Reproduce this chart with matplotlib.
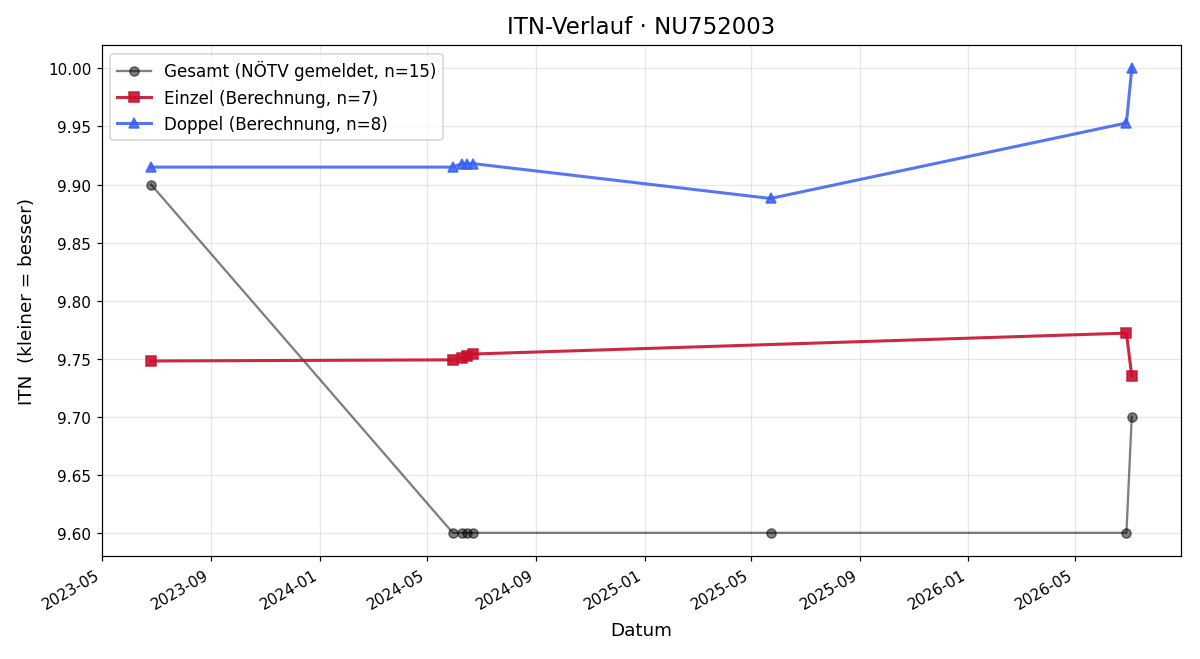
import matplotlib
matplotlib.use("Agg")
import matplotlib.pyplot as plt
import matplotlib.dates as mdates
import pandas as pd

# Gesamt (NÖTV gemeldet)
gesamt_dates = ["2023-06-25", "2024-05-30", "2024-06-09", "2024-06-15", "2024-06-22",
                "2025-05-23", "2026-06-28", "2026-07-04"]
gesamt_itn = [9.90, 9.60, 9.60, 9.60, 9.60, 9.60, 9.60, 9.70]

# Einzel (Berechnung)
einzel_dates = ["2023-06-25", "2024-05-30", "2024-06-09", "2024-06-15", "2024-06-22",
                "2026-06-28", "2026-07-04"]
einzel_itn = [9.748, 9.749, 9.751, 9.752, 9.754, 9.772, 9.735]

# Doppel (Berechnung)
doppel_dates = ["2023-06-25", "2024-05-30", "2024-06-09", "2024-06-15", "2024-06-22",
                "2025-05-23", "2026-06-28", "2026-07-04"]
doppel_itn = [9.915, 9.915, 9.918, 9.918, 9.918, 9.888, 9.953, 10.00]

fig, ax = plt.subplots(figsize=(12 / 1.1, 6.6 / 1.1), dpi=110)

ax.plot(pd.to_datetime(gesamt_dates), gesamt_itn, color="black", alpha=0.5,
        marker="o", markersize=6, linewidth=1.5, label="Gesamt (NÖTV gemeldet, n=15)")
ax.plot(pd.to_datetime(einzel_dates), einzel_itn, color="#c8102e", alpha=0.9,
        marker="s", markersize=7, linewidth=2, label="Einzel (Berechnung, n=7)")
ax.plot(pd.to_datetime(doppel_dates), doppel_itn, color="#3a5ff0", alpha=0.85,
        marker="^", markersize=7, linewidth=2, label="Doppel (Berechnung, n=8)")

ax.set_title("ITN-Verlauf · NU752003", fontsize=15, pad=8)
ax.set_xlabel("Datum", fontsize=12, labelpad=6)
ax.set_ylabel("ITN  (kleiner = besser)", fontsize=12, labelpad=8)
ax.grid(True, alpha=0.3)
ax.legend(loc="upper left", fontsize=11)

ax.xaxis.set_major_locator(mdates.MonthLocator(bymonth=[1, 5, 9]))
ax.xaxis.set_major_formatter(mdates.DateFormatter("%Y-%m"))
fig.autofmt_xdate()

fig.subplots_adjust(left=0.085, right=0.984, top=0.930, bottom=0.156)
fig.savefig("out.png")
